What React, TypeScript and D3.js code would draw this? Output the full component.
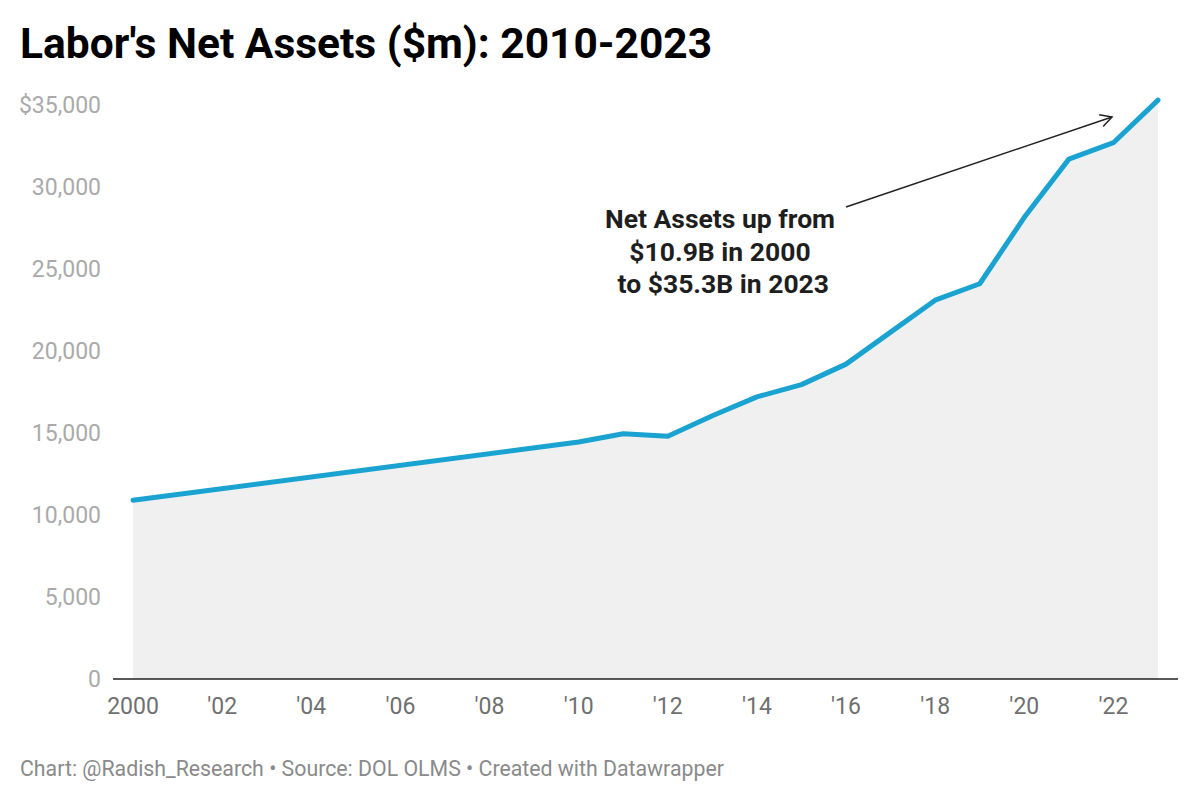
import React from 'react'
import * as d3 from 'd3'

const years = [2000, 2010, 2011, 2012, 2013, 2014, 2015, 2016, 2017, 2018, 2019, 2020, 2021, 2022, 2023]
const netAssets = [10900, 14450, 14950, 14800, 16050, 17200, 17950, 19200, 21150, 23100, 24100, 28150, 31700, 32700, 35300]
const yTicks = [0, 5000, 10000, 15000, 20000, 25000, 30000, 35000]
const xTicks = [2000, 2002, 2004, 2006, 2008, 2010, 2012, 2014, 2016, 2018, 2020, 2022]
const noteLines = ['Net Assets up from', '$10.9B in 2000', ' to $35.3B in 2023']

const W = 1200
const H = 801
const font = 'Roboto, "Noto Sans", sans-serif'

export default function App() {
  const x = d3.scaleLinear().domain([2000, 2023]).range([133, 1158])
  const y = d3.scaleLinear().domain([0, 35000]).range([679, 105])

  const data = years.map((yr, i) => ({ yr, v: netAssets[i] }))

  const line = d3.line<{ yr: number; v: number }>()
    .x(d => x(d.yr))
    .y(d => y(d.v))
  const area = d3.area<{ yr: number; v: number }>()
    .x(d => x(d.yr))
    .y0(y(0))
    .y1(d => y(d.v))

  const fmt = d3.format(',')
  const xLabel = (t: number) => (t === 2000 ? '2000' : "'" + String(t).slice(2))

  // arrow from the note up to the 2022 point
  const ax0 = 846, ay0 = 207, ax1 = 1112, ay1 = 117
  const ang = Math.atan2(ay1 - ay0, ax1 - ax0)
  const head = 13
  const spread = 0.5

  return (
    <svg width={W} height={H} style={{ position: 'absolute', left: 0, top: 0, background: '#fff' }} fontFamily={font}>
      <text x={20} y={58} fontSize={42.5} fontWeight={700} fill="#000">Labor's Net Assets ($m): 2010-2023</text>

      <path d={area(data) || ''} fill="#f0f0f0" />

      {yTicks.map(t => (
        <text key={t} x={101} y={y(t)} dy="0.36em" textAnchor="end" fontSize={23} fill="#aaaaaa">
          {t === 35000 ? '$' + fmt(t) : fmt(t)}
        </text>
      ))}

      <line x1={113} x2={1178} y1={y(0)} y2={y(0)} stroke="#222" strokeWidth={1.6} />

      {xTicks.map(t => (
        <text key={t} x={x(t)} y={714} textAnchor="middle" fontSize={23} fill="#707070">
          {xLabel(t)}
        </text>
      ))}

      <path d={line(data) || ''} fill="none" stroke="#1aa3d1" strokeWidth={5} strokeLinejoin="round" strokeLinecap="round" />

      {noteLines.map((s, i) => (
        <text key={i} x={720} y={228 + i * 32.5} textAnchor="middle" fontSize={26.5} fontWeight={700} fill="#1e1e1e" style={{ whiteSpace: 'pre' }}>
          {s}
        </text>
      ))}

      <line x1={ax0} y1={ay0} x2={ax1} y2={ay1} stroke="#222" strokeWidth={1.5} />
      <path
        d={`M${ax1 - head * Math.cos(ang - spread)},${ay1 - head * Math.sin(ang - spread)} L${ax1},${ay1} L${ax1 - head * Math.cos(ang + spread)},${ay1 - head * Math.sin(ang + spread)}`}
        fill="none"
        stroke="#222"
        strokeWidth={1.5}
      />

      <text x={20} y={776} fontSize={21.3} fill="#8a8a8a">
        Chart: @Radish_Research • Source: DOL OLMS • Created with Datawrapper
      </text>
    </svg>
  )
}
